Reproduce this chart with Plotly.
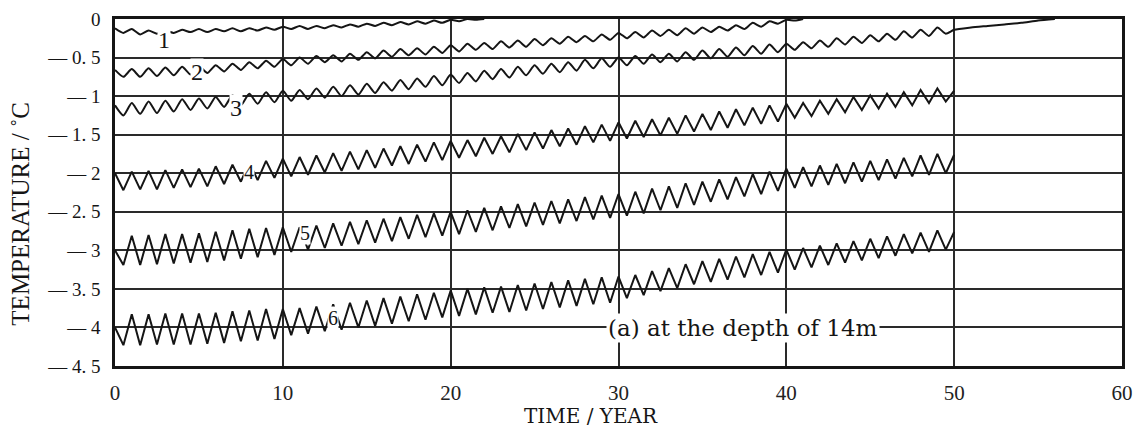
import numpy as np
import plotly.graph_objects as go

# half-year sampling grid (peaks near whole years, troughs near half years)
t_half = list(np.arange(0, 50.5, 0.5))

line1_t = list(np.arange(0, 22.5, 0.5))
line1 = [-0.12, -0.18, -0.13, -0.20, -0.15, -0.19, -0.15, -0.18, -0.14, -0.17,
         -0.13, -0.17, -0.13, -0.16, -0.12, -0.16, -0.12, -0.15, -0.11, -0.14,
         -0.10, -0.13, -0.09, -0.13, -0.09, -0.12, -0.08, -0.11, -0.07, -0.10,
         -0.06, -0.09, -0.05, -0.08, -0.04, -0.07, -0.03, -0.06, -0.02, -0.05,
         -0.01, -0.03, 0.0, -0.01, 0.0]

line2_t = list(np.arange(0, 41.5, 0.5))
line2 = [-0.66, -0.75, -0.65, -0.75, -0.64, -0.74, -0.63, -0.73, -0.62, -0.72,
         -0.61, -0.70, -0.60, -0.68, -0.58, -0.66, -0.56, -0.64, -0.54, -0.62,
         -0.52, -0.60, -0.50, -0.58, -0.48, -0.56, -0.47, -0.55, -0.45, -0.53,
         -0.43, -0.51, -0.41, -0.49, -0.39, -0.47, -0.38, -0.46, -0.36, -0.44,
         -0.34, -0.42, -0.32, -0.40, -0.31, -0.39, -0.29, -0.37, -0.28, -0.36,
         -0.26, -0.34, -0.25, -0.32, -0.23, -0.30, -0.22, -0.29, -0.20, -0.27,
         -0.18, -0.25, -0.17, -0.24, -0.15, -0.22, -0.14, -0.21, -0.12, -0.19,
         -0.11, -0.17, -0.10, -0.15, -0.08, -0.13, -0.05, -0.10, -0.03, -0.06,
         -0.01, -0.02, 0.0]

line3_tail_t = [51, 52, 53, 54, 55, 56]
line3 = [-1.12, -1.25, -1.09, -1.23, -1.07, -1.22, -1.06, -1.20, -1.04, -1.18,
         -1.03, -1.16, -1.01, -1.14, -0.99, -1.12, -0.97, -1.10, -0.95, -1.08,
         -0.93, -1.06, -0.92, -1.04, -0.90, -1.02, -0.88, -1.00, -0.86, -0.98,
         -0.84, -0.96, -0.82, -0.93, -0.79, -0.91, -0.77, -0.88, -0.74, -0.86,
         -0.72, -0.83, -0.70, -0.81, -0.67, -0.78, -0.65, -0.76, -0.62, -0.73,
         -0.60, -0.71, -0.58, -0.69, -0.56, -0.67, -0.53, -0.64, -0.51, -0.62,
         -0.50, -0.60, -0.48, -0.58, -0.46, -0.56, -0.45, -0.55, -0.43, -0.53,
         -0.41, -0.51, -0.39, -0.49, -0.37, -0.47, -0.35, -0.45, -0.33, -0.43,
         -0.32, -0.40, -0.30, -0.38, -0.28, -0.36, -0.25, -0.33, -0.23, -0.31,
         -0.21, -0.29, -0.19, -0.27, -0.16, -0.24, -0.14, -0.22, -0.11, -0.19,
         -0.14,
         -0.11, -0.09, -0.07, -0.05, -0.02, 0.0]

line4 = [-2.00, -2.22, -1.98, -2.21, -1.97, -2.21, -1.96, -2.19, -1.95, -2.18,
         -1.94, -2.17, -1.91, -2.14, -1.89, -2.11, -1.86, -2.09, -1.84, -2.06,
         -1.81, -2.04, -1.79, -2.02, -1.77, -1.99, -1.74, -1.97, -1.72, -1.95,
         -1.70, -1.93, -1.68, -1.90, -1.65, -1.88, -1.63, -1.85, -1.60, -1.83,
         -1.58, -1.80, -1.57, -1.78, -1.54, -1.75, -1.52, -1.73, -1.49, -1.70,
         -1.47, -1.68, -1.44, -1.65, -1.42, -1.63, -1.39, -1.60, -1.37, -1.58,
         -1.34, -1.55, -1.32, -1.53, -1.30, -1.51, -1.28, -1.49, -1.25, -1.46,
         -1.23, -1.44, -1.20, -1.41, -1.17, -1.38, -1.15, -1.36, -1.12, -1.33,
         -1.10, -1.28, -1.09, -1.26, -1.06, -1.23, -1.04, -1.21, -1.01, -1.18,
         -0.99, -1.16, -0.97, -1.14, -0.95, -1.12, -0.92, -1.09, -0.90, -1.07,
         -0.93]

line5 = [-3.00, -3.19, -2.81, -3.19, -2.80, -3.18, -2.79, -3.17, -2.79, -3.16,
         -2.78, -3.15, -2.76, -3.13, -2.74, -3.11, -2.72, -3.09, -2.71, -3.06,
         -2.70, -3.02, -2.70, -2.99, -2.68, -2.97, -2.65, -2.94, -2.63, -2.92,
         -2.61, -2.90, -2.59, -2.88, -2.57, -2.85, -2.54, -2.83, -2.52, -2.81,
         -2.50, -2.79, -2.48, -2.76, -2.45, -2.74, -2.43, -2.71, -2.40, -2.69,
         -2.38, -2.67, -2.36, -2.65, -2.34, -2.62, -2.31, -2.60, -2.29, -2.58,
         -2.27, -2.55, -2.24, -2.52, -2.20, -2.48, -2.17, -2.45, -2.13, -2.41,
         -2.11, -2.37, -2.08, -2.34, -2.05, -2.30, -2.01, -2.27, -1.98, -2.23,
         -1.94, -2.19, -1.92, -2.17, -1.90, -2.15, -1.88, -2.13, -1.86, -2.11,
         -1.84, -2.09, -1.82, -2.07, -1.80, -2.04, -1.77, -2.02, -1.75, -2.00,
         -1.76]

line6 = [-4.00, -4.23, -3.83, -4.23, -3.83, -4.22, -3.82, -4.22, -3.82, -4.22,
         -3.82, -4.21, -3.81, -4.20, -3.79, -4.18, -3.78, -4.17, -3.76, -4.15,
         -3.76, -4.10, -3.75, -4.08, -3.73, -4.05, -3.70, -4.03, -3.68, -4.00,
         -3.65, -3.98, -3.62, -3.95, -3.60, -3.92, -3.57, -3.90, -3.55, -3.87,
         -3.52, -3.85, -3.50, -3.83, -3.48, -3.81, -3.47, -3.80, -3.45, -3.78,
         -3.43, -3.76, -3.41, -3.74, -3.39, -3.72, -3.37, -3.70, -3.35, -3.68,
         -3.34, -3.62, -3.32, -3.58, -3.27, -3.53, -3.23, -3.49, -3.18, -3.44,
         -3.14, -3.41, -3.11, -3.38, -3.08, -3.35, -3.05, -3.32, -3.02, -3.29,
         -2.99, -3.25, -2.97, -3.22, -2.94, -3.19, -2.91, -3.16, -2.88, -3.13,
         -2.85, -3.10, -2.82, -3.07, -2.79, -3.04, -2.77, -3.02, -2.74, -2.99,
         -2.76]

# curve labels: (text, year, temperature)
curve_labels = ["1", "2", "3", "4", "5", "6"]
label_x = [2.9, 4.9, 7.2, 8.0, 11.3, 13.0]
label_y = [-0.27, -0.69, -1.15, -1.99, -2.77, -3.88]
label_size = [24, 24, 24, 20, 20, 20]

note_text = "(a) at the depth of 14m"
note_x = 37.4
note_y = -4.01

y_ticks = [0, -0.5, -1, -1.5, -2, -2.5, -3, -3.5, -4, -4.5]
y_ticktext = ["0", "\u2014 0. 5", "\u2014 1", "\u2014 1. 5", "\u2014 2", "\u2014 2. 5",
              "\u2014 3", "\u2014 3. 5", "\u2014 4", "\u2014 4. 5"]
x_ticks = [0, 10, 20, 30, 40, 50, 60]

x_title = "TIME / YEAR"
y_title = "TEMPERATURE / \u02daC"

SERIF = "Liberation Serif"
INK = "#151515"

fig = go.Figure()
series = [
    (line1_t, line1, "spline"),
    (line2_t, line2, "spline"),
    (t_half + line3_tail_t, line3, "spline"),
    (t_half, line4, "linear"),
    (t_half, line5, "linear"),
    (t_half, line6, "linear"),
]
for (xs, ys, shp) in series:
    fig.add_trace(go.Scatter(
        x=xs, y=ys, mode="lines",
        line=dict(color=INK, width=2.0, shape=shp, smoothing=0.6 if shp == "spline" else None),
        showlegend=False, hoverinfo="skip"))

for txt, lx, ly, sz in zip(curve_labels, label_x, label_y, label_size):
    fig.add_annotation(x=lx, y=ly, text=txt, showarrow=False,
                       font=dict(family=SERIF, size=sz, color=INK),
                       bgcolor="white", borderpad=0)

fig.add_annotation(x=note_x, y=note_y, text=note_text, showarrow=False,
                   font=dict(family="DejaVu Serif", size=23, color=INK),
                   bgcolor="white", borderpad=1)

# axis titles placed as annotations (paper coords)
fig.add_annotation(xref="paper", yref="paper", x=0.4727, y=-0.143,
                   text=x_title, showarrow=False, xanchor="center", yanchor="middle",
                   font=dict(family="DejaVu Serif", size=20, color=INK))
fig.add_annotation(xref="paper", yref="paper", x=-0.094, y=0.44,
                   text=y_title, showarrow=False, xanchor="center", yanchor="middle",
                   textangle=-90,
                   font=dict(family=SERIF, size=25, color=INK))

fig.update_layout(
    width=1134, height=431,
    margin=dict(l=115, r=12, t=19, b=65),
    paper_bgcolor="white", plot_bgcolor="white",
    xaxis=dict(
        range=[0, 60], tickvals=x_ticks, ticks="", automargin=False,
        showgrid=True, gridcolor="#2a2a2a", gridwidth=1.7,
        showline=True, linecolor=INK, linewidth=2.6, mirror=True,
        zeroline=False, ticklabeloverflow="allow", ticklabelstandoff=6,
        tickfont=dict(family=SERIF, size=21, color="#222"),
    ),
    yaxis=dict(
        range=[-4.5, 0], tickvals=y_ticks, ticktext=y_ticktext, ticks="", automargin=False,
        showgrid=True, gridcolor="#2a2a2a", gridwidth=1.7,
        showline=True, linecolor=INK, linewidth=2.6, mirror=True,
        zeroline=False, ticklabelstandoff=8,
        tickfont=dict(family=SERIF, size=19, color=INK),
    ),
)

# remove the page's default 8px body margin so the figure sits at the window origin
fig.write_html("out.html", config={"displayModeBar": False},
               post_script="document.body.style.margin='0';document.body.style.overflow='hidden';")
